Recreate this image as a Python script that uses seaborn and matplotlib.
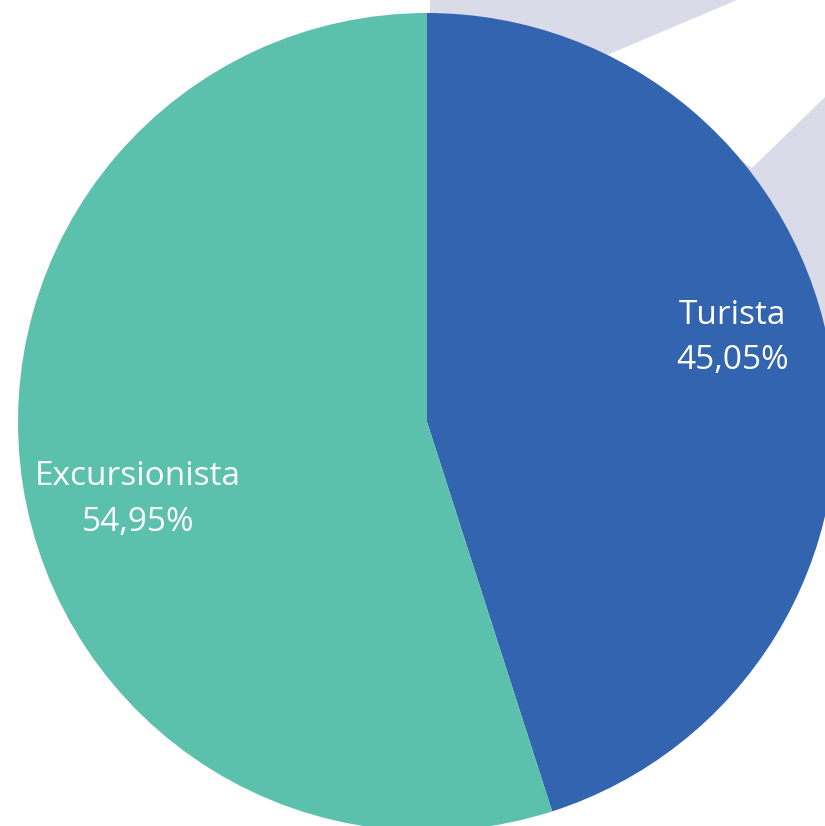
import numpy as np
import matplotlib
matplotlib.use("Agg")
import matplotlib.pyplot as plt
import seaborn as sns
from matplotlib.patches import Polygon

# data
categories = ['Turista', 'Excursionista']
shares = [45.05, 54.95]
labels_pct = ['45,05%', '54,95%']
colors = ['#3264B0', '#5CC1AC']

sns.set_theme(style='white')
plt.rcParams['font.family'] = ['Open Sans', 'DejaVu Sans']

W, H = 825, 826
fig = plt.figure(figsize=(W / 100, H / 100), dpi=100)
fig.patch.set_facecolor('white')


def px(points):
    # pixel coords (top-left origin) -> figure fraction
    return [(x / W, 1 - y / H) for x, y in points]


# light decorative background in top-right corner
gray = Polygon(px([(430, 0), (825, 0), (825, 420), (430, 420)]),
               closed=True, transform=fig.transFigure, facecolor='#D9DBE8',
               edgecolor='none', zorder=-2)
band = Polygon(px([(600, 58), (737, 0), (825, 0), (825, 97), (752, 168)]),
               closed=True, transform=fig.transFigure, facecolor='white',
               edgecolor='none', zorder=-1)
fig.patches.extend([gray, band])

cx, cy, r = 427, 422, 409
ax = fig.add_axes([(cx - r) / W, 1 - (cy + r) / H, 2 * r / W, 2 * r / H])
ax.pie(shares, colors=colors, startangle=90, counterclock=False,
       wedgeprops=dict(linewidth=0))
ax.set_xlim(-1, 1)
ax.set_ylim(-1, 1)
ax.set_aspect('equal')
ax.patch.set_alpha(0)

label_pos = [(0.746, 0.205), (-0.707, -0.19)]
for (x, y), cat, pct in zip(label_pos, categories, labels_pct):
    ax.text(x, y, f'{cat}\n{pct}', color='white', ha='center', va='center',
            fontsize=24, linespacing=1.5)

fig.savefig('out.png', dpi=100)
